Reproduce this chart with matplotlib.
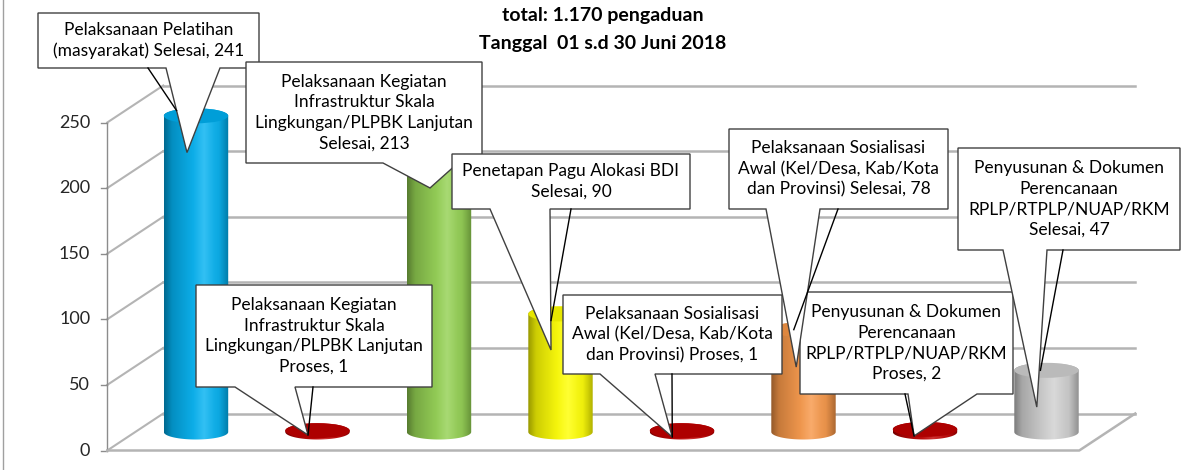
import numpy as np
import matplotlib
matplotlib.use('Agg')
import matplotlib.pyplot as plt
from matplotlib.patches import Polygon, Ellipse, PathPatch
from matplotlib.path import Path
from matplotlib.colors import to_rgb

plt.rcParams['font.family'] = ['Lato', 'DejaVu Sans']

# data
categories = [
    "Pelaksanaan Pelatihan\n(masyarakat) ",
    "Pelaksanaan Kegiatan\nInfrastruktur Skala\nLingkungan/PLPBK Lanjutan\n",
    "Pelaksanaan Kegiatan\nInfrastruktur Skala\nLingkungan/PLPBK Lanjutan\n",
    "Penetapan Pagu Alokasi BDI\n",
    "Pelaksanaan Sosialisasi\nAwal (Kel/Desa, Kab/Kota\ndan Provinsi) ",
    "Pelaksanaan Sosialisasi\nAwal (Kel/Desa, Kab/Kota\ndan Provinsi) ",
    "Penyusunan & Dokumen\nPerencanaan\nRPLP/RTPLP/NUAP/RKM\n",
    "Penyusunan & Dokumen\nPerencanaan\nRPLP/RTPLP/NUAP/RKM\n",
]
statuses = ["Selesai", "Proses", "Selesai", "Selesai", "Proses", "Selesai", "Proses", "Selesai"]
values = [241, 1, 213, 90, 1, 78, 2, 47]
colors = ['#00B0F0', '#C00000', '#92D050', '#FFFF00', '#C00000', '#F79646', '#C00000', '#CFCFCF']
yticks = [0, 50, 100, 150, 200, 250]
title_lines = ["total: 1.170 pengaduan", "Tanggal  01 s.d 30 Juni 2018"]

W, H = 1195, 470
fig = plt.figure(figsize=(W / 100, H / 100), dpi=100)

# mid-depth plane of the 3d box (pixel layout)
Y0, PX = 432, 1.312
YMIN, YMAX = -10, 260
x_left, x_right = 196 - 0.5 * 121.5, 196 + 7.5 * 121.5
ax = fig.add_axes([x_left / W, (H - (Y0 - YMIN * PX)) / H,
                   (x_right - x_left) / W, (YMAX - YMIN) * PX / H], zorder=1)
ax.axis('off')
bg = fig.add_axes([0, 0, 1, 1], zorder=0)
ov = fig.add_axes([0, 0, 1, 1], zorder=2)
for a_ in (bg, ov):
    a_.set_xlim(0, W)
    a_.set_ylim(0, H)
    a_.axis('off')
ax.set_xlim(-0.5, 7.5)
ax.set_ylim(YMIN, YMAX)

DX, DY = 28, 18.5


def to_disp(x, v, depth=0):
    p = ax.transData.transform((x, v))
    return p[0] + depth * DX, p[1] + depth * DY


grid_c = '#B4B4B4'
n = len(values)
# back wall gridlines and side wall diagonals
for v in yticks:
    x1, y1 = to_disp(-0.5, v, 1)
    x2, y2 = to_disp(n - 0.5, v, 1)
    bg.plot([x1, x2], [y1, y2], color=grid_c, lw=1.8)
    fx, fy = to_disp(-0.5, v, -1)
    bg.plot([fx, x1], [fy, y1], color=grid_c, lw=1.5)
    bg.plot([fx - 6, fx], [fy, fy], color='#8C8C8C', lw=1)
    bg.text(fx - 17, fy, str(v), ha='right', va='center', fontsize=13, color='#262626')
# front axis + floor edges
fx0, fy0 = to_disp(-0.5, 0, -1)
fx1, fy1 = to_disp(-0.5, yticks[-1], -1)
bg.plot([fx0, fx1], [fy0, fy1], color='#8C8C8C', lw=1)
rx, ry = to_disp(n - 0.5, 0, -1)
bx, by = to_disp(n - 0.5, 0, 1)
bg.plot([fx0, rx, bx], [fy0, ry, by], color=grid_c, lw=1.8)
bg.plot([3, 3], [0, H], color='#A0A0A0', lw=1)


def shade(c, m=80):
    u = np.linspace(0, 1, m)
    dark = np.interp(u, [0, .12, .45, .62, .85, 1], [.6, .8, .96, 1, .93, .7])
    white = np.interp(u, [0, .45, .62, .78, 1], [0, .05, .2, .07, 0])
    col = np.array(to_rgb(c))[None, :] * dark[:, None]
    col = col + (1 - col) * white[:, None]
    return col[None, :, :]


# cylinders
a = 0.265
b = 7.5 / PX
for i, (v, c) in enumerate(zip(values, colors)):
    t1 = np.linspace(np.pi, 2 * np.pi, 60)
    t2 = np.linspace(0, np.pi, 60)
    xs = np.concatenate([i + a * np.cos(t1), i + a * np.cos(t2)])
    ys = np.concatenate([b * np.sin(t1), v + b * np.sin(t2)])
    clip = PathPatch(Path(np.column_stack([xs, ys])), transform=ax.transData)
    im = ax.imshow(shade(c), extent=(i - a, i + a, -b, v + b), aspect='auto',
                   interpolation='bilinear', zorder=2)
    im.set_clip_path(clip)
    top = np.array(to_rgb(c)) * 0.9
    ax.add_patch(Ellipse((i, v), 2 * a, 2 * b, fc=top, ec='none', zorder=3))
ax.set_xlim(-0.5, 7.5)
ax.set_ylim(YMIN, YMAX)

# callout layout: box (l, t, r, b) in px, pointer base xs, tip (data), leader start x, leader end (data)
callouts = [
    ((38, 13, 259, 68), (166, 220), (-0.074, 213), 148, (-0.16, 245)),
    ((196, 285, 432, 387), (235, 295), (0.922, -2.3), 313, (0.922, -2.3)),
    ((246, 62, 482, 163), (383, 458), (1.926, 186), None, None),
    ((452, 154, 690, 209), (490, 550), (2.922, 62.5), 571, (2.922, 85)),
    ((563, 295, 782, 374), (600, 655), (3.92, -3.8), 672, (3.92, -3.8)),
    ((729, 129, 948, 209), (766, 820), (4.94, 49.5), 838, (4.92, 78)),
    ((800, 292, 1013, 394), (908, 977), (5.91, -3), 905, (5.91, -3)),
    ((958, 148, 1180, 250), (1003, 1047), (6.92, 19), 1063, (6.95, 47)),
]
order = [0, 1, 2, 3, 4, 6, 5, 7]
for z, k in enumerate(order):
    (l, t, r, bt), (b1, b2), tip, lx, lend = callouts[k]
    tx, ty = to_disp(*tip)
    pts = [(l, H - t), (r, H - t), (r, H - bt), (b2, H - bt), (tx, ty), (b1, H - bt), (l, H - bt)]
    zz = 10 + 3 * z
    ov.add_patch(Polygon(pts, closed=True, fc='white', ec='#404040', lw=1, zorder=zz))
    if lx is not None:
        ex, ey = to_disp(*lend)
        ov.plot([lx, ex], [H - bt, ey], color='black', lw=1, zorder=zz + 1)
    label = categories[k] + statuses[k] + ", " + str(values[k])
    ov.text((l + r) / 2, H - (t + bt) / 2, label, ha='center', va='center',
            fontsize=12.5, linespacing=1.35, color='black', zorder=zz + 2)

ov.text(603, H - 15, title_lines[0], ha='center', va='center', fontsize=14, fontweight='bold')
ov.text(603, H - 43, title_lines[1], ha='center', va='center', fontsize=14, fontweight='bold')

fig.savefig('out.png', dpi=100)
